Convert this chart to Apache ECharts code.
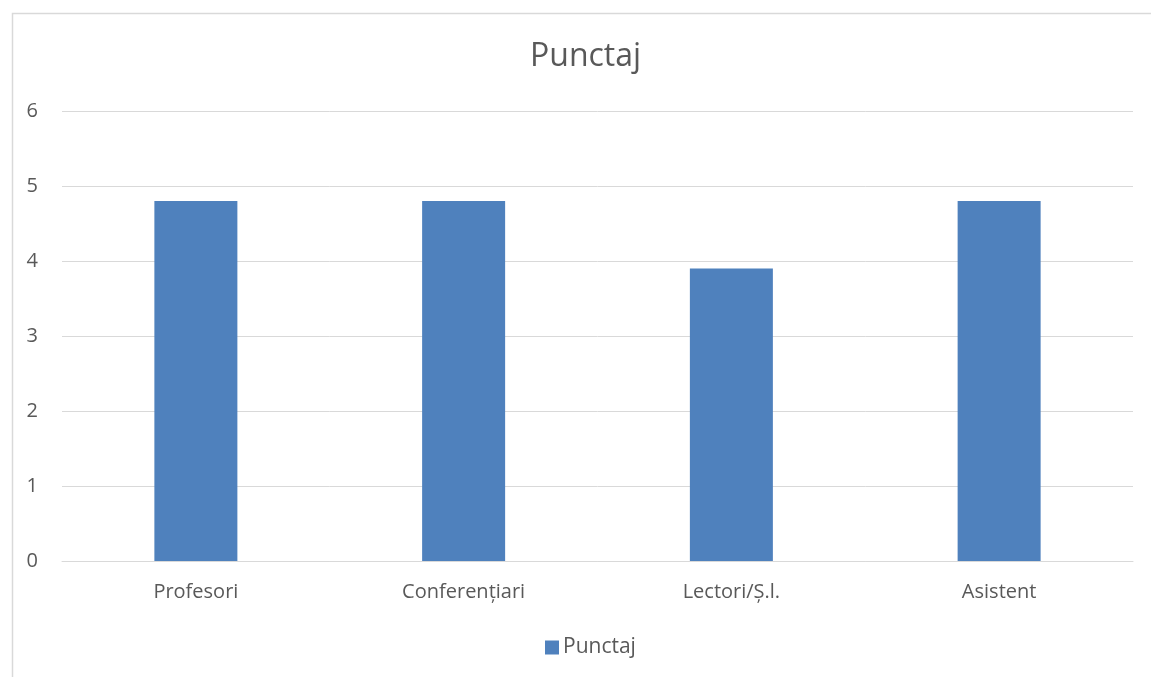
<!DOCTYPE html>
<html><head><meta charset="utf-8">
<script src="https://cdn.jsdelivr.net/npm/echarts@6/dist/echarts.min.js"></script>
<style>html,body{margin:0;padding:0;background:#fff}#c{width:1151px;height:677px}</style>
</head><body><div id="c"></div>
<script>
const categories = ["Profesori", "Conferențiari", "Lectori/Ș.l.", "Asistent"];
const punctaj = [4.8, 4.8, 3.9, 4.8];
const seriesName = "Punctaj";
const titleText = "Punctaj";

const chart = echarts.init(document.getElementById('c'), null, {renderer: 'canvas'});
const font = '"Open Sans", "Noto Sans", sans-serif';
chart.setOption({
  animation: false,
  backgroundColor: '#fff',
  graphic: [{
    type: 'rect', left: 10, top: 11, z: -1,
    shape: {width: 1160, height: 700},
    style: {fill: 'none', stroke: '#d9d9d9', lineWidth: 1.5}
  }],
  title: {
    text: titleText, left: 525, top: 36,
    textStyle: {fontFamily: font, fontSize: 32, fontWeight: 'normal', color: '#595959'}
  },
  legend: {
    bottom: 14, left: 540, itemWidth: 14, itemHeight: 14, itemGap: 4,
    icon: 'rect',
    textStyle: {fontFamily: font, fontSize: 21, color: '#595959', padding: [0,0,0,-1]},
    data: [seriesName]
  },
  grid: {left: 62, right: 18, top: 111, bottom: 116, containLabel: false},
  xAxis: {
    type: 'category', data: categories,
    axisLine: {lineStyle: {color: '#d9d9d9', width: 1}},
    axisTick: {show: false},
    axisLabel: {fontFamily: font, fontSize: 20, color: '#595959', margin: 21}
  },
  yAxis: {
    type: 'value', min: 0, max: 6, interval: 1,
    axisLine: {show: false}, axisTick: {show: false},
    splitLine: {lineStyle: {color: '#d9d9d9', width: 1}},
    axisLabel: {fontFamily: font, fontSize: 20, color: '#595959', margin: 24}
  },
  series: [{
    name: seriesName, type: 'bar', data: punctaj,
    barWidth: '31%',
    itemStyle: {color: '#4F81BD'}
  }]
});
</script></body></html>
